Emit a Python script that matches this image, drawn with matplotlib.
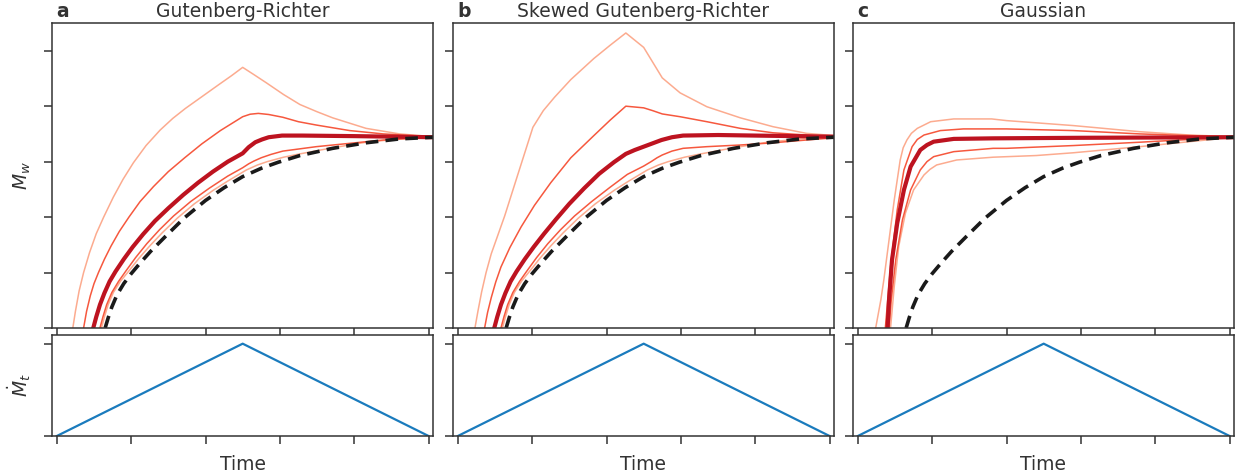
import numpy as np
import matplotlib.pyplot as plt

titles = ['Gutenberg-Richter', 'Skewed Gutenberg-Richter', 'Gaussian']
letters = ['a', 'b', 'c']

# triangular moment rate function
rate_t = [0.0, 2.5, 5.0]
rate = [0.0, 1.0, 0.0]

# magnitude of the cumulative moment (same in every panel)
static_t = [0.65, 0.69, 0.74, 0.81, 0.9, 1.0, 1.12, 1.26, 1.46, 1.71, 2.0, 2.25, 2.5, 2.75, 2.98, 3.27, 3.71, 4.16, 4.61, 5.06]
static_mw = [0.0, 0.18, 0.38, 0.60, 0.80, 0.98, 1.17, 1.38, 1.65, 1.98, 2.30, 2.53, 2.73, 2.88, 2.99, 3.11, 3.24, 3.34, 3.41, 3.44]

# Gutenberg-Richter percentiles
gr_p95_t = [0.215, 0.25, 0.30, 0.36, 0.44, 0.53, 0.63, 0.76, 0.89, 1.03, 1.2, 1.39, 1.56, 1.73, 1.95, 2.18, 2.35, 2.5, 2.65, 2.82, 3.05, 3.27, 3.50, 3.71, 4.16, 4.61, 5.06]
gr_p95 = [0.0, 0.30, 0.67, 1.0, 1.36, 1.70, 2.0, 2.36, 2.68, 2.98, 3.29, 3.57, 3.78, 3.96, 4.17, 4.39, 4.55, 4.70, 4.57, 4.42, 4.21, 4.03, 3.90, 3.79, 3.60, 3.50, 3.45]
gr_p75_t = [0.36, 0.40, 0.45, 0.50, 0.56, 0.64, 0.73, 0.84, 0.97, 1.12, 1.3, 1.5, 1.72, 1.95, 2.2, 2.5, 2.6, 2.71, 2.85, 3.04, 3.25, 3.49, 3.94, 4.39, 5.06]
gr_p75 = [0.0, 0.30, 0.58, 0.80, 1.0, 1.24, 1.48, 1.74, 2.0, 2.28, 2.55, 2.82, 3.07, 3.32, 3.56, 3.81, 3.855, 3.87, 3.85, 3.80, 3.72, 3.66, 3.56, 3.50, 3.45]
gr_p50_t = [0.49, 0.53, 0.58, 0.64, 0.71, 0.79, 0.90, 1.02, 1.16, 1.32, 1.5, 1.7, 1.9, 2.1, 2.3, 2.5, 2.58, 2.67, 2.76, 2.85, 3.03, 3.3, 4.0, 5.06]
gr_p50 = [0.0, 0.20, 0.42, 0.63, 0.84, 1.02, 1.24, 1.46, 1.69, 1.93, 2.16, 2.40, 2.62, 2.82, 3.0, 3.15, 3.26, 3.35, 3.40, 3.44, 3.47, 3.47, 3.46, 3.44]
gr_p25_t = [0.58, 0.62, 0.67, 0.74, 0.83, 0.93, 1.06, 1.21, 1.38, 1.57, 1.8, 2.05, 2.3, 2.5, 2.58, 2.65, 2.75, 2.88, 3.04, 3.49, 3.94, 4.39, 5.06]
gr_p25 = [0.0, 0.20, 0.42, 0.64, 0.84, 1.03, 1.27, 1.52, 1.77, 2.02, 2.28, 2.52, 2.74, 2.89, 2.96, 3.01, 3.07, 3.13, 3.19, 3.27, 3.33, 3.39, 3.44]
gr_p05_t = [0.60, 0.64, 0.69, 0.76, 0.86, 0.97, 1.1, 1.25, 1.42, 1.62, 1.85, 2.1, 2.3, 2.45, 2.55, 2.7, 2.83, 3.05, 3.27, 3.71, 4.16, 4.61, 5.06]
gr_p05 = [0.0, 0.20, 0.42, 0.64, 0.85, 1.03, 1.25, 1.48, 1.72, 1.98, 2.24, 2.48, 2.65, 2.77, 2.85, 2.94, 3.0, 3.08, 3.14, 3.25, 3.35, 3.41, 3.44]

# skewed Gutenberg-Richter percentiles
sgr_p95_t = [0.23, 0.27, 0.32, 0.38, 0.45, 0.54, 0.63, 0.72, 0.81, 0.91, 1.01, 1.15, 1.30, 1.52, 1.83, 2.05, 2.26, 2.50, 2.75, 2.99, 3.35, 3.80, 4.24, 4.69, 5.06]
sgr_p95 = [0.0, 0.30, 0.65, 1.0, 1.34, 1.68, 2.02, 2.40, 2.78, 3.20, 3.62, 3.92, 4.16, 4.48, 4.86, 5.10, 5.32, 5.06, 4.51, 4.24, 3.99, 3.79, 3.63, 3.51, 3.47]
sgr_p75_t = [0.36, 0.40, 0.45, 0.51, 0.58, 0.70, 0.85, 1.03, 1.25, 1.52, 1.83, 2.05, 2.26, 2.50, 2.62, 2.75, 2.99, 3.35, 3.80, 4.24, 4.69, 5.06]
sgr_p75 = [0.0, 0.28, 0.55, 0.83, 1.10, 1.45, 1.82, 2.21, 2.62, 3.07, 3.47, 3.75, 4.0, 3.97, 3.92, 3.86, 3.81, 3.72, 3.60, 3.52, 3.48, 3.45]
sgr_p50_t = [0.49, 0.53, 0.58, 0.64, 0.71, 0.79, 0.90, 1.02, 1.16, 1.32, 1.5, 1.7, 1.9, 2.1, 2.26, 2.38, 2.5, 2.62, 2.74, 2.88, 3.03, 3.5, 4.0, 5.06]
sgr_p50 = [0.0, 0.20, 0.42, 0.63, 0.84, 1.02, 1.24, 1.46, 1.70, 1.96, 2.24, 2.52, 2.78, 2.99, 3.14, 3.21, 3.27, 3.33, 3.39, 3.44, 3.47, 3.48, 3.47, 3.45]
sgr_p25_t = [0.58, 0.62, 0.67, 0.74, 0.83, 0.93, 1.06, 1.21, 1.38, 1.57, 1.8, 2.05, 2.28, 2.5, 2.60, 2.68, 2.75, 2.88, 3.03, 3.35, 3.80, 4.24, 4.69, 5.06]
sgr_p25 = [0.0, 0.20, 0.42, 0.64, 0.84, 1.03, 1.27, 1.52, 1.77, 2.02, 2.28, 2.54, 2.77, 2.92, 3.0, 3.07, 3.12, 3.19, 3.24, 3.27, 3.30, 3.34, 3.39, 3.43]
sgr_p05_t = [0.60, 0.64, 0.69, 0.76, 0.86, 0.97, 1.1, 1.25, 1.42, 1.62, 1.85, 2.1, 2.3, 2.45, 2.55, 2.7, 2.83, 3.05, 3.27, 3.71, 4.16, 4.61, 5.06]
sgr_p05 = [0.0, 0.20, 0.42, 0.64, 0.85, 1.03, 1.25, 1.48, 1.72, 1.98, 2.24, 2.48, 2.65, 2.77, 2.85, 2.94, 3.0, 3.08, 3.14, 3.25, 3.35, 3.41, 3.44]

# Gaussian percentiles
gs_p95_t = [0.24, 0.31, 0.35, 0.42, 0.49, 0.57, 0.61, 0.66, 0.72, 0.80, 0.98, 1.29, 1.8, 2.0, 2.9, 3.79, 4.46, 5.06]
gs_p95 = [0.0, 0.51, 0.87, 1.59, 2.31, 3.03, 3.25, 3.39, 3.51, 3.60, 3.72, 3.77, 3.77, 3.74, 3.65, 3.54, 3.48, 3.45]
gs_p75_t = [0.37, 0.44, 0.53, 0.62, 0.73, 0.80, 0.89, 1.11, 1.42, 2.0, 2.9, 3.79, 4.46, 5.06]
gs_p75 = [0.0, 1.11, 2.13, 2.85, 3.27, 3.40, 3.48, 3.56, 3.59, 3.59, 3.56, 3.50, 3.47, 3.45]
gs_p50_t = [0.40, 0.42, 0.46, 0.53, 0.62, 0.71, 0.84, 0.93, 1.02, 1.29, 1.82, 3.0, 5.06]
gs_p50 = [0.0, 0.51, 1.23, 1.89, 2.49, 2.91, 3.21, 3.30, 3.36, 3.41, 3.42, 3.43, 3.44]
gs_p25_t = [0.42, 0.45, 0.51, 0.60, 0.71, 0.84, 0.93, 1.02, 1.29, 1.82, 2.0, 2.9, 3.79, 4.46, 5.06]
gs_p25 = [0.0, 0.51, 1.23, 1.95, 2.49, 2.85, 3.0, 3.09, 3.18, 3.24, 3.24, 3.29, 3.35, 3.40, 3.44]
gs_p05_t = [0.44, 0.49, 0.55, 0.64, 0.75, 0.89, 0.97, 1.06, 1.33, 1.82, 2.4, 2.9, 3.79, 4.46, 5.06]
gs_p05 = [0.0, 0.75, 1.47, 2.07, 2.49, 2.76, 2.86, 2.94, 3.03, 3.08, 3.11, 3.16, 3.27, 3.36, 3.44]

panels = [
    [(gr_p05_t, gr_p05), (gr_p95_t, gr_p95), (gr_p25_t, gr_p25), (gr_p75_t, gr_p75), (gr_p50_t, gr_p50)],
    [(sgr_p05_t, sgr_p05), (sgr_p95_t, sgr_p95), (sgr_p25_t, sgr_p25), (sgr_p75_t, sgr_p75), (sgr_p50_t, sgr_p50)],
    [(gs_p05_t, gs_p05), (gs_p95_t, gs_p95), (gs_p25_t, gs_p25), (gs_p75_t, gs_p75), (gs_p50_t, gs_p50)],
]
styles = [('#fcab8f', 1.1), ('#fcab8f', 1.1), ('#f6583e', 1.1), ('#f6583e', 1.1), ('#bd1320', 3.0)]

edge = '#333333'
plt.rcParams.update({
    'font.family': 'DejaVu Sans',
    'font.size': 13.5,
    'axes.edgecolor': edge,
    'axes.linewidth': 1.1,
    'xtick.color': edge,
    'ytick.color': edge,
    'xtick.major.size': 5.8,
    'ytick.major.size': 5.8,
    'xtick.major.width': 1.1,
    'ytick.major.width': 1.1,
    'text.color': edge,
    'axes.labelcolor': edge,
    'lines.solid_joinstyle': 'round',
})

W, H = 1239, 476
fig = plt.figure(figsize=(W / 100, H / 100), dpi=100)
lefts = [52, 453, 853]
xlim = (-0.065, 5.06)

for i, left in enumerate(lefts):
    ax = fig.add_axes([left / W, (H - 328) / H, 381 / W, 305 / H])
    for (t, mw), (col, lw) in zip(panels[i], styles):
        ax.plot(t, mw, color=col, lw=lw)
    ax.plot(static_t, static_mw, color='#1a1a1a', lw=2.6, ls=(0, (3.5, 2.0)))
    ax.set_xlim(*xlim)
    ax.set_ylim(0, 5.5)
    ax.set_xticks(np.arange(0, 6))
    ax.set_yticks(np.arange(0, 6))
    ax.set_xticklabels([])
    ax.set_yticklabels([])
    ax.text(0.5, 1.021, titles[i], transform=ax.transAxes, ha='center', va='baseline')
    ax.text(0.012, 1.021, letters[i], transform=ax.transAxes, ha='left', va='baseline',
            fontweight='bold')
    if i == 0:
        ax.set_ylabel('$M_w$')
        ax.yaxis.set_label_coords(-0.05, 0.5)

    bx = fig.add_axes([left / W, (H - 436) / H, 381 / W, 101 / H])
    bx.plot(rate_t, rate, color='#1a7bbd', lw=1.6)
    bx.set_xlim(*xlim)
    bx.set_ylim(0, 1.094)
    bx.set_xticks(np.arange(0, 6))
    bx.set_yticks([0, 1])
    bx.set_xticklabels([])
    bx.set_yticklabels([])
    bx.set_xlabel('Time')
    bx.xaxis.set_label_coords(0.5, -0.19)
    if i == 0:
        bx.set_ylabel(r'$\dot{M}_t$')
        bx.yaxis.set_label_coords(-0.05, 0.5)

fig.savefig('out.png', dpi=100)
